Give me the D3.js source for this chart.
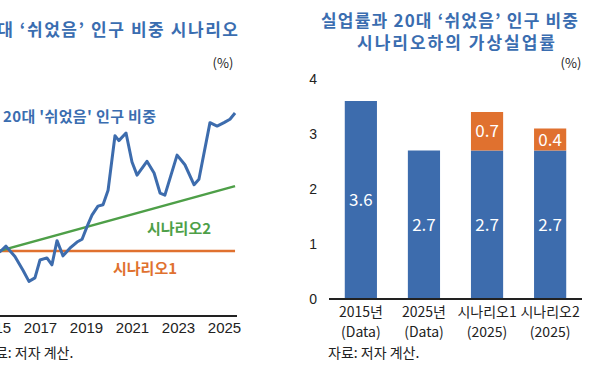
<!DOCTYPE html>
<html><head><meta charset="utf-8">
<script src="https://cdn.jsdelivr.net/npm/d3@7"></script>
<style>
body{margin:0;background:#fff;}
svg{display:block;font-family:"Noto Sans CJK KR","Noto Sans",sans-serif;}
</style></head>
<body>
<svg id="c" width="593" height="365"></svg>
<script>
// ---- Left chart data ----
const lineYears = [2015.0,2015.26,2015.52,2015.91,2016.26,2016.52,2016.78,2017.0,2017.3,2017.52,2017.74,2018.0,2018.3,2018.61,2018.83,2019.04,2019.26,2019.52,2019.74,2019.96,2020.26,2020.43,2020.74,2021.0,2021.22,2021.65,2021.96,2022.22,2022.43,2022.96,2023.3,2023.7,2023.91,2024.39,2024.7,2025.0,2025.26,2025.48];
const lineValues = [4.00,3.99,4.07,3.92,3.72,3.56,3.61,3.87,3.90,3.80,4.15,3.93,4.04,4.13,4.17,4.35,4.52,4.65,4.67,4.88,5.67,5.60,5.71,5.29,5.10,5.30,5.13,4.84,4.81,5.39,5.25,4.96,5.04,5.86,5.81,5.86,5.91,6.00];
const scenarioYears = [2015.0, 2025.48];
const scenario1 = [4.0, 4.0];
const scenario2 = [3.98, 4.94];
const xTicks = [2015,2017,2019,2021,2023,2025];

// ---- Right chart data ----
const barCats = [["2015년","(Data)"],["2025년","(Data)"],["시나리오1","(2025)"],["시나리오2","(2025)"]];
const baseValues = [3.6, 2.7, 2.7, 2.7];
const extraValues = [0, 0, 0.7, 0.4];
const yTicks = [0,1,2,3,4];

const BLUE = "#3d6cad", ORANGE = "#e0712f", GREEN = "#4e9f48", TITLE = "#3a6db0";
const svg = d3.select("#c");

// ===== Left chart =====
const xL = d3.scaleLinear().domain([2017, 2025]).range([40, 224]);
const yL = d3.scaleLinear().domain([3, 7]).range([320, 44]);
const L = svg.append("g");

L.append("text").attr("x", -26).attr("y", 36)
 .attr("font-size", 17).attr("font-weight","bold").attr("fill", TITLE)
 .attr("textLength", 264).attr("lengthAdjust","spacing")
 .text("20대 ‘쉬었음’ 인구 비중 시나리오");
L.append("text").attr("x", 223).attr("y", 68).attr("text-anchor","middle")
 .attr("font-size", 13).attr("fill","#222").text("(%)");

const line = d3.line().x(d=>xL(d[0])).y(d=>yL(d[1]));
L.append("path").datum(scenarioYears.map((y,i)=>[y,scenario1[i]]))
 .attr("d", line).attr("fill","none").attr("stroke", ORANGE).attr("stroke-width", 2.5);
L.append("path").datum(scenarioYears.map((y,i)=>[y,scenario2[i]]))
 .attr("d", line).attr("fill","none").attr("stroke", GREEN).attr("stroke-width", 2.5);
L.append("path").datum(lineYears.map((y,i)=>[y,lineValues[i]]))
 .attr("d", line).attr("fill","none").attr("stroke", BLUE).attr("stroke-width", 3)
 .attr("stroke-linejoin","round");

L.append("text").attr("x", 3).attr("y", 122).attr("font-size", 15).attr("font-weight","bold")
 .attr("fill", TITLE).attr("textLength", 153).attr("lengthAdjust","spacing").text("20대 '쉬었음' 인구 비중");
L.append("text").attr("x", 147).attr("y", 234).attr("font-size", 15).attr("font-weight","bold")
 .attr("fill", GREEN).text("시나리오2");
L.append("text").attr("x", 113).attr("y", 274).attr("font-size", 15).attr("font-weight","bold")
 .attr("fill", ORANGE).text("시나리오1");

const axL = L.append("g").attr("transform","translate(0,316)")
 .call(d3.axisBottom(xL).tickValues(xTicks).tickFormat(d3.format("d")).tickSize(0).tickPadding(6));
axL.select(".domain").attr("d","M-10,0H237").attr("stroke","#222").attr("stroke-width",2);
axL.selectAll("text").attr("font-size",15).attr("fill","#222").attr("font-family","inherit");

L.append("text").attr("x", -18).attr("y", 358).attr("font-size", 14).attr("fill","#222").text("자료: 저자 계산.");

// ===== Right chart =====
const R = svg.append("g");
R.append("text").attr("x", 321).attr("y", 27)
 .attr("font-size", 17).attr("font-weight","bold").attr("fill", TITLE)
 .attr("textLength", 257).attr("lengthAdjust","spacing")
 .text("실업률과 20대 ‘쉬었음’ 인구 비중");
R.append("text").attr("x", 357).attr("y", 49)
 .attr("font-size", 17).attr("font-weight","bold").attr("fill", TITLE)
 .attr("textLength", 198).attr("lengthAdjust","spacing")
 .text("시나리오하의 가상실업률");
R.append("text").attr("x", 571).attr("y", 68).attr("text-anchor","middle")
 .attr("font-size", 13).attr("fill","#222").text("(%)");

const yR = d3.scaleLinear().domain([0, 4]).range([299, 79]);
const xR = d3.scaleBand().domain(d3.range(barCats.length)).range([329, 582]).paddingInner(0.49).paddingOuter(0.25);

const ayR = R.append("g").attr("transform","translate(317,0)")
 .call(d3.axisLeft(yR).tickValues(yTicks).tickFormat(d3.format("d")).tickSize(0).tickPadding(0));
ayR.select(".domain").remove();
ayR.selectAll("text").attr("font-size",14).attr("fill","#222").attr("font-family","inherit");

const bars = baseValues.map((b,i)=>({i, base:b, extra:extraValues[i]}));
R.selectAll("rect.base").data(bars).join("rect").attr("class","base")
 .attr("x",d=>xR(d.i)).attr("width",xR.bandwidth())
 .attr("y",d=>yR(d.base)).attr("height",d=>yR(0)-yR(d.base)).attr("fill",BLUE);
const ex = bars.filter(d=>d.extra>0);
R.selectAll("rect.extra").data(ex).join("rect").attr("class","extra")
 .attr("x",d=>xR(d.i)).attr("width",xR.bandwidth())
 .attr("y",d=>yR(d.base+d.extra)).attr("height",d=>yR(d.base)-yR(d.base+d.extra)).attr("fill",ORANGE);

R.selectAll("text.bv").data(bars).join("text").attr("class","bv")
 .attr("x",d=>xR(d.i)+xR.bandwidth()/2).attr("y",d=>(yR(d.base)+yR(0))/2).attr("dy","0.36em")
 .attr("text-anchor","middle").attr("font-size",17).attr("fill","#fff").text(d=>d.base.toFixed(1));
R.selectAll("text.ev").data(ex).join("text").attr("class","ev")
 .attr("x",d=>xR(d.i)+xR.bandwidth()/2).attr("y",d=>(yR(d.base)+yR(d.base+d.extra))/2).attr("dy","0.36em")
 .attr("text-anchor","middle").attr("font-size",17).attr("fill","#fff").text(d=>d.extra.toFixed(1));

R.append("line").attr("x1",329).attr("x2",582).attr("y1",yR(0)).attr("y2",yR(0)).attr("stroke","#222").attr("stroke-width",2);

barCats.forEach((c,i)=>{
  const cx = xR(i)+xR.bandwidth()/2;
  R.append("text").attr("x",cx).attr("y",317).attr("text-anchor","middle").attr("font-size",14).attr("fill","#222").text(c[0]);
  R.append("text").attr("x",cx).attr("y",337).attr("text-anchor","middle").attr("font-size",14).attr("fill","#222").text(c[1]);
});

R.append("text").attr("x", 328).attr("y", 358).attr("font-size", 14).attr("fill","#222").text("자료: 저자 계산.");
</script>
</body></html>
